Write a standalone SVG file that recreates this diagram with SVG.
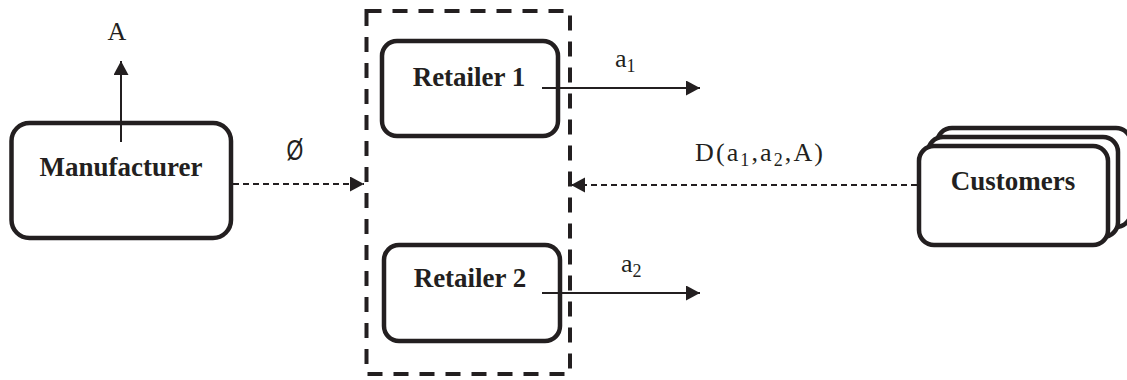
<svg xmlns="http://www.w3.org/2000/svg" width="1127" height="380" viewBox="0 0 1127 380">
<style>
.box{fill:#fff;stroke:#231f20;stroke-width:4.5}
.lbl{font-family:"Liberation Serif","Times New Roman",serif;font-weight:bold;font-size:27px;fill:#231f20;text-anchor:middle}
.math{font-family:"Liberation Serif","Times New Roman",serif;font-size:26px;fill:#231f20}
.sub{font-size:18px}
.solid{stroke:#231f20;stroke-width:2;fill:none}
.dash{stroke:#231f20;stroke-width:2;fill:none;stroke-dasharray:6 4}
</style>
<defs>
<marker id="ah" markerUnits="userSpaceOnUse" markerWidth="16" markerHeight="16" refX="14" refY="7.5" orient="auto">
<path d="M0,0 L14,7.5 L0,15 z" fill="#231f20"/>
</marker>
</defs>
<rect x="0" y="0" width="1127" height="380" fill="#fff"/>
<g id="container">
<rect x="366.5" y="11" width="203.5" height="363" fill="none" stroke="#231f20" stroke-width="4" stroke-dasharray="15 11"/>
</g>
<g id="manufacturer">
<rect class="box" x="11.5" y="123" width="219.5" height="115" rx="18"/>
<text class="lbl" x="121" y="176">Manufacturer</text>
</g>
<g id="retailer1">
<rect class="box" x="382" y="41" width="176" height="95" rx="15"/>
<text class="lbl" x="469" y="86">Retailer 1</text>
</g>
<g id="retailer2">
<rect class="box" x="384" y="245" width="176" height="96" rx="15"/>
<text class="lbl" x="470" y="287">Retailer 2</text>
</g>
<g id="customers">
<rect class="box" x="937" y="128" width="194" height="99" rx="15"/>
<rect class="box" x="928" y="137" width="190" height="100" rx="15"/>
<rect class="box" x="919" y="146" width="189" height="99" rx="15"/>
<text class="lbl" x="1013" y="190">Customers</text>
</g>
<g id="connectors">
<line class="solid" x1="121" y1="142" x2="121" y2="61" marker-end="url(#ah)"/>
<line class="dash" x1="233" y1="184" x2="364" y2="184" marker-end="url(#ah)"/>
<line class="dash" x1="917" y1="185" x2="571" y2="185" marker-end="url(#ah)"/>
<line class="solid" x1="542" y1="88" x2="700" y2="88" marker-end="url(#ah)"/>
<line class="solid" x1="542" y1="293" x2="700" y2="293" marker-end="url(#ah)"/>
</g>
<g id="labels">
<text class="math" x="117" y="40" text-anchor="middle" font-size="26">A</text>
<text transform="translate(295,160) scale(0.72,1)" text-anchor="middle" font-family="Liberation Sans, Arial, sans-serif" font-size="30" fill="#231f20">Ø</text>
<text class="math" x="615" y="67">a<tspan class="sub" dy="5">1</tspan></text>
<text class="math" x="621" y="272">a<tspan class="sub" dy="5">2</tspan></text>
<text class="math" x="695" y="161" textLength="128" lengthAdjust="spacing">D(a<tspan class="sub" dy="5">1</tspan><tspan dy="-5">,a</tspan><tspan class="sub" dy="5">2</tspan><tspan dy="-5">,A)</tspan></text>
</g>
</svg>
